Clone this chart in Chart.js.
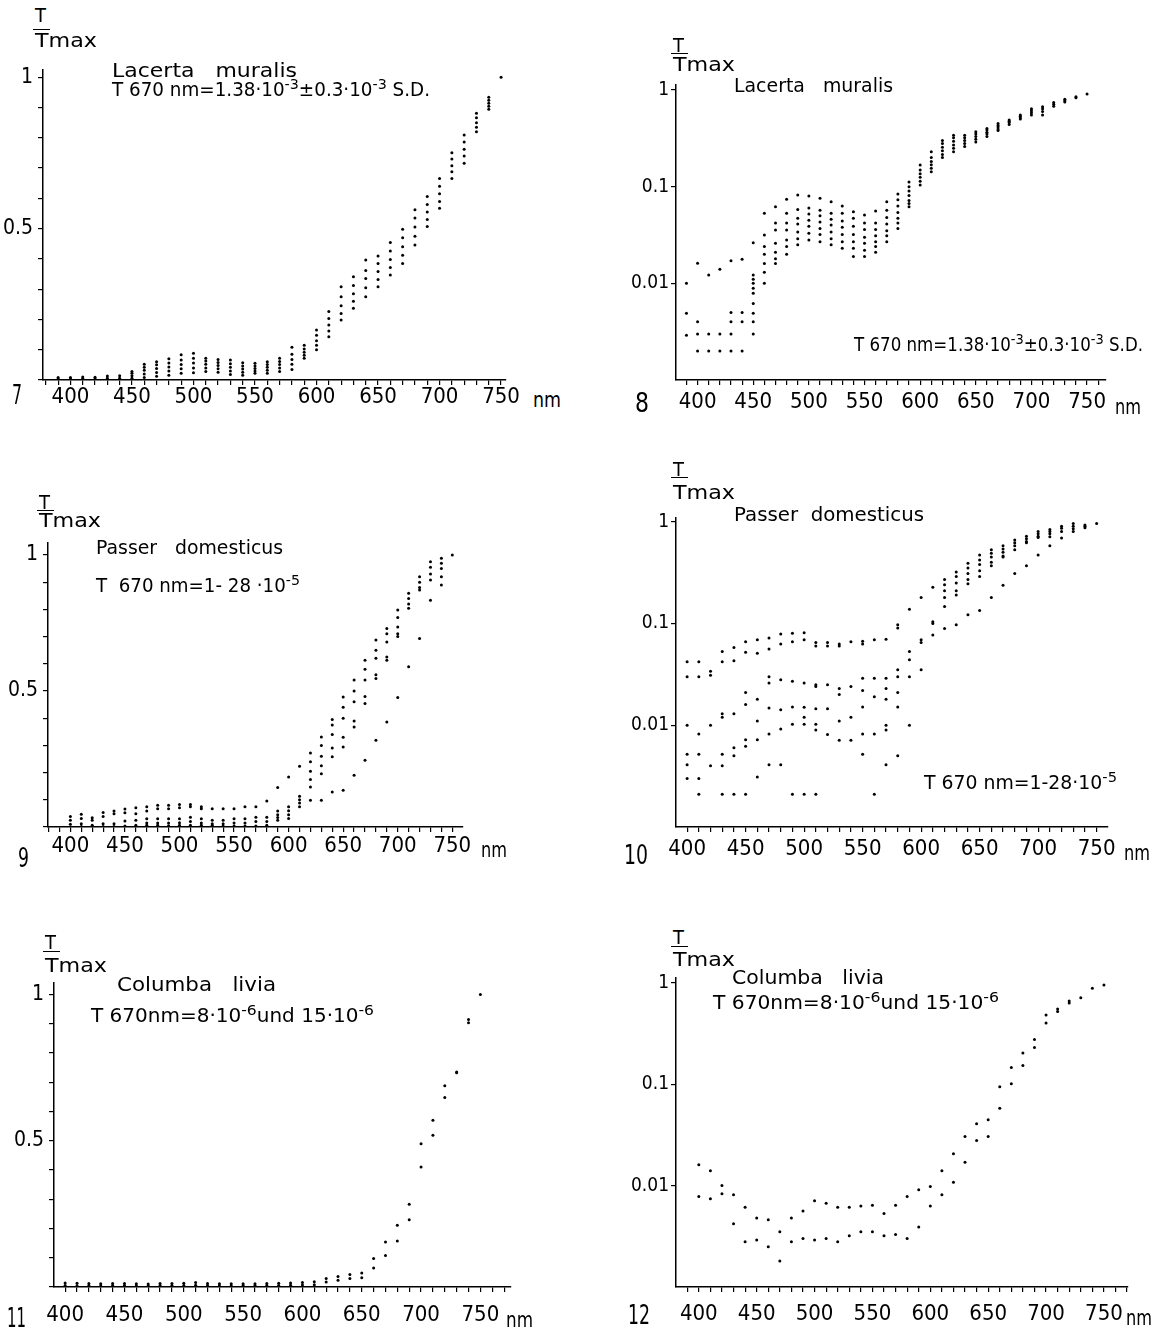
<!DOCTYPE html>
<html><head><meta charset="utf-8">
<script src="https://cdn.jsdelivr.net/npm/chart.js@4.4.1/dist/chart.umd.min.js"></script>
<style>
html,body{margin:0;padding:0;background:#fff;}
#page{position:relative;width:1152px;height:1330px;overflow:hidden;background:#fff;}
canvas{position:absolute;}
.t{position:absolute;white-space:pre;line-height:1;color:#000;font-family:'DejaVu Sans',sans-serif;transform-origin:0 0;}
.t sup{font-size:0.78em;vertical-align:0.5em;line-height:0;}
.bar{position:absolute;height:1.3px;background:#000;}
</style></head><body><div id="page"></div>
<script>
// ---------------- DATA ----------------
const xLabelValues = [400, 450, 500, 550, 600, 650, 700, 750];
const linLabelValues = [0.5, 1];
const linLabelText = ['0.5', '1'];
const logLabelValues = [0.01, 0.1, 1];
const logLabelText = ['0.01', '0.1', '1'];

// Fig. 7 Lacerta muralis, linear
const lacertaLinWl = [390,400,410,420,430,440,450,460,470,480,490,500,510,520,530,540,550,560,570,580,590,600,610,620,630,640,650,660,670,680,690,700,710,720,730,740,750];
const lacertaLinT = [
 [0.004,0.008],[0.004,0.008],[0.005,0.010],[0.004,0.009],[0.006,0.013],[0.006,0.014],
 [0.006,0.014,0.022,0.028],
 [0.008,0.020,0.032,0.042,0.052],
 [0.012,0.025,0.038,0.050,0.060],
 [0.016,0.030,0.043,0.056,0.070],
 [0.022,0.037,0.051,0.066,0.083],
 [0.024,0.040,0.056,0.072,0.088],
 [0.028,0.040,0.052,0.063,0.072],
 [0.026,0.037,0.048,0.058,0.068],
 [0.018,0.030,0.042,0.054,0.066],
 [0.016,0.026,0.036,0.046,0.057],
 [0.022,0.030,0.038,0.046,0.055],
 [0.022,0.032,0.042,0.051,0.060],
 [0.028,0.040,0.051,0.061,0.072],
 [0.035,0.052,0.068,0.085,0.108],
 [0.072,0.082,0.092,0.102,0.115],
 [0.100,0.115,0.130,0.148,0.165],
 [0.143,0.162,0.182,0.203,0.226],
 [0.198,0.220,0.245,0.275,0.308],
 [0.237,0.260,0.285,0.312,0.341],
 [0.275,0.305,0.335,0.362,0.396],
 [0.308,0.332,0.358,0.385,0.410],
 [0.347,0.372,0.398,0.426,0.454],
 [0.385,0.412,0.440,0.470,0.498],
 [0.446,0.475,0.505,0.535,0.562],
 [0.507,0.530,0.555,0.580,0.606],
 [0.567,0.590,0.615,0.640,0.666],
 [0.666,0.688,0.708,0.730,0.751],
 [0.716,0.740,0.762,0.786,0.809],
 [0.820,0.835,0.850,0.866,0.881],
 [0.894,0.904,0.914,0.924,0.934],
 [1.0]
];

// Fig. 8 Lacerta muralis, log
const lacertaLogWl = [390,400,410,420,430,440,450,460,470,480,490,500,510,520,530,540,550,560,570,580,590,600,610,620,630,640,650,660,670,680,690,700,710,720,730,740,750];
const lacertaLogT = [
 [0.0100,0.0049,0.0029],
 [0.0161,0.0040,0.0030,0.0020],
 [0.0122,0.0030,0.0020],
 [0.0140,0.0030,0.0020],
 [0.0171,0.0050,0.0040,0.0030,0.0020],
 [0.0177,0.0050,0.0040,0.0020],
 [0.0263,0.0122,0.0110,0.0100,0.0089,0.0079,0.0062,0.0049,0.0040,0.0030],
 [0.053,0.0316,0.024,0.020,0.016,0.013,0.010],
 [0.062,0.042,0.0356,0.026,0.021,0.018,0.016],
 [0.074,0.053,0.042,0.0356,0.028,0.024,0.020],
 [0.082,0.058,0.047,0.041,0.034,0.029,0.025],
 [0.080,0.060,0.052,0.045,0.039,0.033,0.028],
 [0.076,0.057,0.050,0.043,0.037,0.032,0.027],
 [0.070,0.053,0.046,0.040,0.034,0.029,0.025],
 [0.063,0.053,0.044,0.038,0.032,0.027,0.023],
 [0.055,0.047,0.039,0.032,0.027,0.023,0.019],
 [0.051,0.042,0.036,0.030,0.026,0.022,0.019],
 [0.056,0.042,0.036,0.031,0.027,0.024,0.021],
 [0.070,0.057,0.048,0.041,0.035,0.031,0.027],
 [0.084,0.073,0.063,0.054,0.047,0.042,0.037],
 [0.112,0.100,0.090,0.081,0.072,0.067,0.062],
 [0.167,0.149,0.136,0.125,0.114,0.104],
 [0.229,0.200,0.182,0.168,0.155,0.143],
 [0.300,0.280,0.255,0.235,0.215,0.200],
 [0.340,0.320,0.295,0.270,0.250,0.230],
 [0.340,0.320,0.300,0.280,0.260],
 [0.370,0.350,0.330,0.310,0.290],
 [0.400,0.385,0.365,0.350,0.330],
 [0.450,0.430,0.415,0.395,0.380],
 [0.490,0.475,0.460,0.440],
 [0.550,0.535,0.515,0.500],
 [0.640,0.610,0.580,0.550],
 [0.670,0.640,0.600,0.550],
 [0.740,0.710,0.680],
 [0.800,0.775,0.750],
 [0.850,0.830],
 [0.910]
];

// Fig. 9 Passer domesticus, linear
const passerLinWl = [400,410,420,430,440,450,460,470,480,490,500,510,520,530,540,550,560,570,580,590,600,610,620,630,640,650,660,670,680,690,700,710,720,730,740,750];
const passerLinT = [
 [0.039,0.025,0.010,0.000],
 [0.047,0.031,0.012,0.002],
 [0.034,0.025,0.006,0.000],
 [0.053,0.039,0.012,0.002],
 [0.059,0.049,0.012,0.002],
 [0.066,0.052,0.022,0.004],
 [0.071,0.049,0.025,0.006],
 [0.074,0.059,0.030,0.015,0.006],
 [0.080,0.067,0.030,0.015,0.006],
 [0.080,0.067,0.030,0.015,0.005],
 [0.083,0.071,0.030,0.016,0.006],
 [0.083,0.074,0.036,0.020,0.006],
 [0.074,0.067,0.030,0.015,0.006],
 [0.067,0.025,0.012,0.006],
 [0.067,0.025,0.012,0.004],
 [0.067,0.030,0.015,0.004],
 [0.074,0.030,0.015,0.004],
 [0.074,0.036,0.020,0.004],
 [0.096,0.036,0.020,0.006],
 [0.145,0.059,0.045,0.035,0.025],
 [0.184,0.074,0.060,0.045,0.031],
 [0.223,0.113,0.100,0.088,0.074],
 [0.272,0.240,0.205,0.175,0.147,0.098],
 [0.331,0.300,0.260,0.225,0.196,0.098],
 [0.395,0.375,0.340,0.290,0.258,0.129],
 [0.478,0.440,0.400,0.330,0.294,0.135],
 [0.540,0.500,0.460,0.390,0.368,0.190],
 [0.613,0.580,0.540,0.480,0.454,0.245],
 [0.687,0.650,0.620,0.560,0.546,0.319],
 [0.730,0.710,0.680,0.625,0.613,0.386],
 [0.798,0.770,0.735,0.710,0.700,0.476],
 [0.859,0.840,0.820,0.804,0.589],
 [0.920,0.900,0.880,0.871,0.693],
 [0.975,0.955,0.930,0.908,0.834],
 [0.988,0.970,0.950,0.920,0.890],
 [1.0]
];

// Fig. 10 Passer domesticus, log
const passerLogWl = [400,410,420,430,440,450,460,470,480,490,500,510,520,530,540,550,560,570,580,590,600,610,620,630,640,650,660,670,680,690,700,710,720,730,740,750];
const passerLogT = [
 [0.042,0.030,0.010,0.0052,0.0041,0.0030],
 [0.042,0.030,0.0082,0.0052,0.0030,0.0021],
 [0.034,0.031,0.010,0.0040],
 [0.053,0.042,0.013,0.012,0.0052,0.0040,0.0021],
 [0.058,0.043,0.013,0.0060,0.0050,0.0021],
 [0.066,0.052,0.021,0.016,0.0072,0.0062,0.0021],
 [0.069,0.051,0.018,0.011,0.0072,0.0031],
 [0.072,0.056,0.030,0.026,0.0148,0.0082,0.0041],
 [0.079,0.063,0.028,0.0142,0.0092,0.0041],
 [0.080,0.066,0.027,0.0151,0.0102,0.0021],
 [0.081,0.069,0.026,0.015,0.012,0.0102,0.0021],
 [0.065,0.060,0.025,0.024,0.0145,0.0102,0.0090,0.0021],
 [0.065,0.060,0.025,0.0145,0.0081],
 [0.063,0.060,0.023,0.020,0.011,0.0071],
 [0.066,0.024,0.012,0.0071],
 [0.067,0.063,0.029,0.022,0.0151,0.0082,0.0052],
 [0.069,0.029,0.019,0.0082,0.0021],
 [0.070,0.029,0.023,0.018,0.010,0.0090,0.0041],
 [0.097,0.090,0.035,0.030,0.021,0.0151,0.0050],
 [0.138,0.053,0.044,0.030,0.010],
 [0.180,0.069,0.065,0.035],
 [0.227,0.104,0.100,0.077],
 [0.270,0.240,0.210,0.180,0.147,0.089],
 [0.320,0.290,0.250,0.210,0.190,0.097],
 [0.390,0.350,0.310,0.270,0.245,0.122],
 [0.470,0.420,0.380,0.330,0.290,0.134],
 [0.530,0.490,0.450,0.400,0.370,0.180],
 [0.580,0.540,0.500,0.460,0.450,0.238],
 [0.660,0.620,0.580,0.530,0.310],
 [0.720,0.680,0.640,0.620,0.370],
 [0.800,0.760,0.720,0.700,0.470],
 [0.840,0.800,0.760,0.710,0.580],
 [0.900,0.860,0.800,0.690],
 [0.960,0.900,0.850,0.800],
 [0.930,0.900,0.870],
 [0.960]
];

// Fig. 11 Columba livia, linear
const columbaLinWl = [400,410,420,430,440,450,460,470,480,490,500,510,520,530,540,550,560,570,580,590,600,610,620,630,640,650,660,670,680,690,700,710,720,730,740,750];
const columbaLinT = [
 [0.014,0.005],[0.013,0.004],[0.012,0.005],[0.011,0.004],[0.012,0.005],[0.012,0.005],
 [0.011,0.004],[0.010,0.004],[0.012,0.005],[0.012,0.005],[0.013,0.005],[0.015,0.006],
 [0.012,0.005],[0.011,0.004],[0.011,0.004],[0.011,0.005],[0.011,0.005],[0.012,0.005],
 [0.013,0.005],[0.014,0.006],[0.015,0.007],[0.018,0.008],
 [0.029,0.017],[0.036,0.023],[0.043,0.029],[0.048,0.032],
 [0.097,0.065],[0.154,0.108],[0.211,0.157],[0.283,0.230],
 [0.490,0.410],[0.570,0.519],[0.688,0.648],[0.735,0.732],[0.914,0.903],[1.0]
];

// Fig. 12 Columba livia, log
const columbaLogWl = [400,410,420,430,440,450,460,470,480,490,500,510,520,530,540,550,560,570,580,590,600,610,620,630,640,650,660,670,680,690,700,710,720,730,740,750];
const columbaLogT = [
 [0.016,0.0078],[0.014,0.0074],[0.010,0.0083],[0.0081,0.0042],[0.0061,0.0028],[0.0048,0.0029],
 [0.0046,0.0025],[0.0035,0.0018],[0.0048,0.0028],[0.0056,0.0030],[0.0071,0.0029],[0.0067,0.0030],
 [0.0061,0.0028],[0.0061,0.0032],[0.0063,0.0035],[0.0064,0.0035],[0.0053,0.0032],[0.0064,0.0033],
 [0.0078,0.0030],[0.0091,0.0039],[0.0098,0.0063],[0.014,0.0081],[0.0206,0.0108],[0.0305,0.017],
 [0.0407,0.0278],[0.0446,0.0305],[0.094,0.058],[0.146,0.101],[0.203,0.153],[0.275,0.230],
 [0.48,0.40],[0.55,0.52],[0.66,0.63],[0.71],[0.88],[0.95]
];

// ---------------- LAYOUT ----------------
const TICK_FONT = "'DejaVu Sans Condensed', 'Liberation Sans Narrow', 'DejaVu Sans', sans-serif";
const page = document.getElementById('page');
const YW = 75, PT = 30, PR = 25, XH = 40;

function flatten(wl, vals) {
  const pts = [];
  wl.forEach((w, i) => vals[i].forEach(v => pts.push({x: w, y: v})));
  return pts;
}
function near(a, b) { return Math.abs(a - b) < 1e-9; }

function makeChart(g, wl, vals, isLog) {
  const cv = document.createElement('canvas');
  const W = (g.r - g.l) + YW + PR, H = PT + (g.b - g.t) + XH;
  cv.width = W; cv.height = H;
  cv.style.left = (g.l - YW) + 'px'; cv.style.top = (g.t - PT) + 'px';
  cv.style.width = W + 'px'; cv.style.height = H + 'px';
  page.appendChild(cv);
  const axisGrid = {drawOnChartArea: false, drawTicks: true, tickLength: 5, color: '#000', lineWidth: 1.2};
  const axisBorder = {display: true, color: '#000', width: 1.5};
  const yScale = isLog ? {
    type: 'logarithmic', min: 0.001, max: g.ymax,
    afterFit: s => { s.width = YW; },
    afterBuildTicks: s => { s.ticks = s.ticks.filter(t => logLabelValues.some(v => Math.abs(v - t.value) < v * 1e-6)); },
    border: axisBorder, grid: axisGrid,
    ticks: {autoSkip: false, padding: 2, color: '#000', font: {family: TICK_FONT, size: 19, lineHeight: 1},
      callback: v => { const i = logLabelValues.findIndex(u => Math.abs(u - v) < u * 1e-6); return i >= 0 ? logLabelText[i] : null; }}
  } : {
    type: 'linear', min: 0, max: g.ymax,
    afterFit: s => { s.width = YW; },
    border: axisBorder, grid: axisGrid,
    ticks: {stepSize: 0.1, includeBounds: false, autoSkip: false, padding: 5, color: '#000', font: {family: TICK_FONT, size: 21, lineHeight: 1},
      callback: v => { const i = linLabelValues.findIndex(u => near(u, v)); return i >= 0 ? linLabelText[i] : ''; }}
  };
  new Chart(cv.getContext('2d'), {
    type: 'scatter',
    data: {datasets: [{data: flatten(wl, vals), pointRadius: 1.5, pointHoverRadius: 1.5,
      pointBackgroundColor: '#000', pointBorderWidth: 0, showLine: false}]},
    options: {
      responsive: false, animation: false, devicePixelRatio: 1,
      layout: {padding: {left: 0, top: PT, right: PR, bottom: 0}},
      plugins: {legend: {display: false}, tooltip: {enabled: false}},
      events: [],
      scales: {
        x: {type: 'linear', min: g.xmin, max: g.xmax,
          afterFit: s => { s.height = XH; },
          border: axisBorder, grid: axisGrid,
          ticks: {stepSize: 10, includeBounds: false, autoSkip: false, maxRotation: 0, minRotation: 0,
            padding: g.xpad, color: '#000', font: {family: TICK_FONT, size: 22, lineHeight: 1},
            callback: v => xLabelValues.includes(v) ? String(v) : ''}},
        y: yScale
      }
    }
  });
}

function addText(html, left, capTop, fs, width, family) {
  const el = document.createElement('div');
  el.className = 't';
  el.innerHTML = html;
  el.style.left = left + 'px';
  el.style.top = (capTop - 0.117 * fs) + 'px';
  el.style.fontSize = fs + 'px';
  if (family) el.style.fontFamily = family;
  page.appendChild(el);
  if (width) {
    const w = el.getBoundingClientRect().width;
    if (w > 0) el.style.transform = 'scaleX(' + (width / w) + ')';
  }
  return el;
}
function addFrac(x, tCap, lineY, tmaxCap) {
  addText('T', x, tCap, 19, 11);
  const bar = document.createElement('div');
  bar.className = 'bar';
  bar.style.left = (x - 2) + 'px'; bar.style.top = lineY + 'px'; bar.style.width = '17px';
  page.appendChild(bar);
  addText('Tmax', x, tmaxCap, 19, 62);
}

const geoms = {
  p7:  {l: 43,  t: 70,  r: 506,  b: 380,  xmin: 377.7, xmax: 754,   ymax: 1.024, xpad: 1},
  p8:  {l: 676, t: 85,  r: 1106, b: 380,  xmin: 380.6, xmax: 767,   ymax: 1.126, xpad: 6},
  p9:  {l: 48,  t: 543, r: 463,  b: 827,  xmin: 379.5, xmax: 759.8, ymax: 1.044, xpad: 3},
  p10: {l: 676, t: 518, r: 1108, b: 827,  xmin: 390.5, xmax: 759.7, ymax: 1.087, xpad: 6},
  p11: {l: 54,  t: 983, r: 511,  b: 1287, xmin: 390.6, xmax: 775.8, ymax: 1.039, xpad: 12},
  p12: {l: 676, t: 978, r: 1128, b: 1287, xmin: 380.3, xmax: 770.8, ymax: 1.113, xpad: 11}
};

function draw() {
  makeChart(geoms.p7, lacertaLinWl, lacertaLinT, false);
  makeChart(geoms.p8, lacertaLogWl, lacertaLogT, true);
  makeChart(geoms.p9, passerLinWl, passerLinT, false);
  makeChart(geoms.p10, passerLogWl, passerLogT, true);
  makeChart(geoms.p11, columbaLinWl, columbaLinT, false);
  makeChart(geoms.p12, columbaLogWl, columbaLogT, true);

  const lac2 = 'T 670 nm=1.38·10<sup>-3</sup>±0.3·10<sup>-3</sup> S.D.';
  const pas2 = 'T 670 nm=1-28·10<sup>-5</sup>';
  const col2 = 'T 670nm=8·10<sup>-6</sup>und 15·10<sup>-6</sup>';

  // Fig 7
  addFrac(35, 8, 29, 33);
  addText('Lacerta   muralis', 112, 63, 19, 185);
  addText(lac2, 112, 82, 19, 318);
  addText('7', 12, 385, 26, 10, TICK_FONT);
  addText('nm', 533, 392, 22, 28, TICK_FONT);
  // Fig 8
  addFrac(673, 38, 53, 57);
  addText('Lacerta   muralis', 734, 78, 19, 159);
  addText(lac2, 854, 337, 19, 289);
  addText('8', 635, 393, 26, 14, TICK_FONT);
  addText('nm', 1115, 399, 22, 26, TICK_FONT);
  // Fig 9
  addFrac(39, 495, 510, 513);
  addText('Passer   domesticus', 96, 540, 19, 187);
  addText('T  670 nm=1- 28 ·10<sup>-5</sup>', 96, 578, 19, 204);
  addText('9', 18, 848, 26, 11, TICK_FONT);
  addText('nm', 481, 842, 22, 26, TICK_FONT);
  // Fig 10
  addFrac(673, 462, 477, 485);
  addText('Passer  domesticus', 734, 507, 19, 190);
  addText(pas2, 924, 775, 19, 193);
  addText('10', 624, 845, 26, 24, TICK_FONT);
  addText('nm', 1124, 845, 22, 26, TICK_FONT);
  // Fig 11
  addFrac(45, 935, 951, 958);
  addText('Columba   livia', 117, 977, 19, 159);
  addText(col2, 91, 1008, 19, 283);
  addText('11', 7, 1308, 26, 19, TICK_FONT);
  addText('nm', 506, 1312, 22, 27, TICK_FONT);
  // Fig 12
  addFrac(673, 930, 946, 952);
  addText('Columba   livia', 732, 970, 19, 152);
  addText(col2, 713, 995, 19, 286);
  addText('12', 628, 1305, 26, 22, TICK_FONT);
  addText('nm', 1126, 1310, 22, 26, TICK_FONT);
}
if (document.fonts && document.fonts.ready) document.fonts.ready.then(draw); else draw();
</script></body></html>
